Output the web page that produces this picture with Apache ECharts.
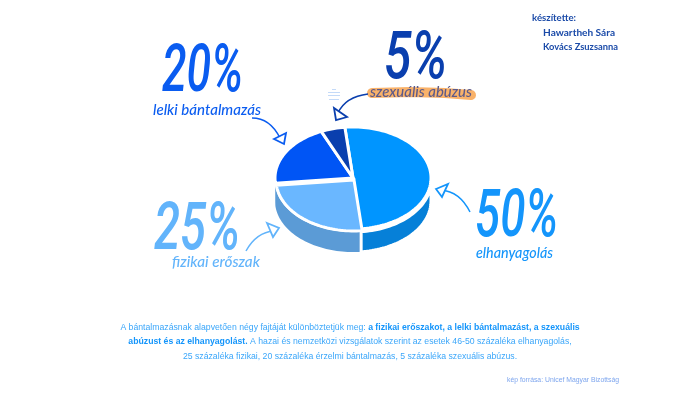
<!DOCTYPE html>
<html>
<head>
<meta charset="utf-8">
<title>bántalmazás</title>
<style>html,body{margin:0;padding:0;background:#fff}#main{width:700px;height:394px}</style>
<script src="https://cdn.jsdelivr.net/npm/echarts@6/dist/echarts.min.js"></script>
</head>
<body>
<div id="main"></div>
<script>
// adatok
var categories = ['elhanyagolás', 'fizikai erőszak', 'lelki bántalmazás', 'szexuális abúzus'];
var percents = [50, 25, 20, 5];
var percentLabels = ['50%', '25%', '20%', '5%'];
var authors = ['készítette:', 'Hawartheh Sára', 'Kovács Zsuzsanna'];
var source = 'kép forrása: Unicef Magyar Bizottság';

var topColors = ['#0095ff', '#6ab7ff', '#0055f5', '#0a3fae'];
var sideColors = ['#0680d8', '#5b9bd6', '#5b9bd6', null];
var textColors = ['#1495fb', '#62b4fb', '#0a5cf0', '#0a3fae'];

var chart = echarts.init(document.getElementById('main'));

// a pite ellipszise
var cx = 353, cy = 178, rx = 78, ry = 51, depth = 23;
var startDeg = -96;

var cum = 0;
var pieData = percents.map(function (v, i) {
  var row = { name: categories[i], value: [v, cum, i] };
  cum += v;
  return row;
});

function ellipsePts(a, b, y0, dx, dy) {
  var pts = [];
  var n = Math.max(2, Math.ceil(Math.abs(b - a) / 2));
  for (var k = 0; k <= n; k++) {
    var t = (a + (b - a) * k / n) * Math.PI / 180;
    pts.push([cx + dx + rx * Math.cos(t), y0 + dy + ry * Math.sin(t)]);
  }
  return pts;
}

function renderSlice(params, api) {
  var v = api.value(0), from = api.value(1), i = api.value(2);
  var a = echarts.number.linearMap(from, [0, 100], [startDeg, startDeg + 360]);
  var b = echarts.number.linearMap(from + v, [0, 100], [startDeg, startDeg + 360]);
  // a 25%-os szelet picit kijjebb van
  var dx = i === 1 ? 1 : 0;
  var dy = i === 1 ? 2 : 0;
  var children = [];

  var s = Math.max(a, 0), e = Math.min(b, 180);
  if (sideColors[i] && e > s) {
    var upper = ellipsePts(s, e, cy + 3, 0, 0);
    var lower = ellipsePts(s, e, cy + depth, 0, 0).reverse();
    children.push({
      type: 'polygon',
      z2: i === 0 ? 2 : 1,
      shape: { points: upper.concat(lower) },
      style: { fill: sideColors[i], stroke: i === 0 ? '#fff' : null, lineWidth: i === 0 ? 3 : 0 }
    });
  }
  children.push({
    type: 'polygon',
    z2: 3,
    shape: { points: [[cx + dx, cy + dy]].concat(ellipsePts(a, b, cy, dx, dy)) },
    style: { fill: topColors[i], stroke: '#fff', lineWidth: 3, lineJoin: 'miter' }
  });
  return { type: 'group', children: children };
}

var ctx = document.createElement('canvas').getContext('2d');

// szöveg x1..x2 közé szorítva
function fitText(text, x1, x2, y, font, fill) {
  ctx.font = font;
  return {
    type: 'text',
    x: x1,
    y: y,
    scaleX: (x2 - x1) / ctx.measureText(text).width,
    z: 10,
    silent: true,
    style: { text: text, font: font, fill: fill, verticalAlign: 'middle', align: 'left' }
  };
}

function arrow(p0, c1, c2, p1, head, color) {
  return [{
    type: 'bezierCurve',
    z: 5,
    silent: true,
    shape: { x1: p0[0], y1: p0[1], cpx1: c1[0], cpy1: c1[1], cpx2: c2[0], cpy2: c2[1], x2: p1[0], y2: p1[1] },
    style: { stroke: color, lineWidth: 1.5, fill: null }
  }, {
    type: 'polygon',
    z: 5,
    silent: true,
    shape: { points: head },
    style: { stroke: color, lineWidth: 1.8, fill: '#fff' }
  }];
}

// halvány folt a nyíl mellett
function faintLine(x1, x2, y) {
  return {
    type: 'line',
    z: 3,
    silent: true,
    shape: { x1: x1, y1: y, x2: x2, y2: y },
    style: { stroke: '#c4daf8', lineWidth: 1 }
  };
}

var bigFont = 'italic 500 66px Roboto';
var labelFont = 'italic 500 16px Lato';
var handFont = 'bold 10px Lato';
var bodyFont = '8.7px "Liberation Sans"';

var elements = [
  // narancs kiemelés
  {
    type: 'polyline',
    z: 4,
    silent: true,
    shape: { points: [[372, 93], [410, 92], [445, 93], [471, 95]] },
    style: { stroke: '#f9b26a', lineWidth: 10, fill: null, lineCap: 'round' }
  },
  faintLine(332, 336, 89.5),
  faintLine(328, 340, 92.5),
  faintLine(328, 340, 95.5),
  faintLine(329, 339, 99.5),
  fitText(percentLabels[2], 162, 243, 74, bigFont, textColors[2]),
  fitText(percentLabels[3], 384, 447, 61, bigFont, textColors[3]),
  fitText(percentLabels[1], 154, 240, 232, bigFont, textColors[1]),
  fitText(percentLabels[0], 475, 558, 219, bigFont, textColors[0]),
  fitText(categories[2], 153, 261, 110, labelFont, textColors[2]),
  fitText(categories[3], 370, 472, 92, labelFont, '#5c5a8a'),
  fitText(categories[1], 172, 260, 262, labelFont, textColors[1]),
  fitText(categories[0], 476, 553, 253, labelFont, textColors[0]),
  fitText(authors[0], 532, 576, 18, handFont, '#1a4aa8'),
  fitText(authors[1], 543, 615, 33, handFont, '#1a4aa8'),
  fitText(authors[2], 543, 618, 47, handFont, '#1a4aa8'),
  fitText(source, 507, 619, 380, '7.5px "Liberation Sans"', '#7ea6ee'),
  {
    type: 'text',
    x: 350,
    y: 342,
    z: 10,
    silent: true,
    style: {
      text: '{n|A bántalmazásnak alapvetően négy fajtáját különböztetjük meg: }{b|a fizikai erőszakot, a lelki bántalmazást, a szexuális}\n' +
        '{b|abúzust és az elhanyagolást.}{n| A hazai és nemzetközi vizsgálatok szerint az esetek 46-50 százaléka elhanyagolás,}\n' +
        '{n|25 százaléka fizikai, 20 százaléka érzelmi bántalmazás, 5 százaléka szexuális abúzus.}',
      align: 'center',
      verticalAlign: 'middle',
      rich: {
        n: { font: bodyFont, fill: '#3aa6fa', lineHeight: 14.5 },
        b: { font: 'bold ' + bodyFont, fill: '#1495fb', lineHeight: 14.5 }
      }
    }
  }
];
elements = elements
  .concat(arrow([252, 118], [265, 118], [274, 126], [280, 138], [[274, 139], [286, 133], [284, 144]], textColors[2]))
  .concat(arrow([368, 94], [352, 96], [343, 102], [338, 113], [[334, 108], [347, 117], [336, 120]], textColors[3]))
  .concat(arrow([246, 251], [252, 240], [260, 232], [274, 231], [[267, 223], [279, 228], [273, 237]], textColors[1]))
  .concat(arrow([470, 212], [464, 200], [454, 191], [441, 190], [[436, 189], [448, 184], [442, 197]], textColors[0]));

chart.setOption({
  animation: false,
  backgroundColor: '#fff',
  graphic: { elements: elements },
  series: [{
    type: 'custom',
    coordinateSystem: 'none',
    renderItem: renderSlice,
    silent: true,
    data: pieData
  }]
});
</script>
</body>
</html>
